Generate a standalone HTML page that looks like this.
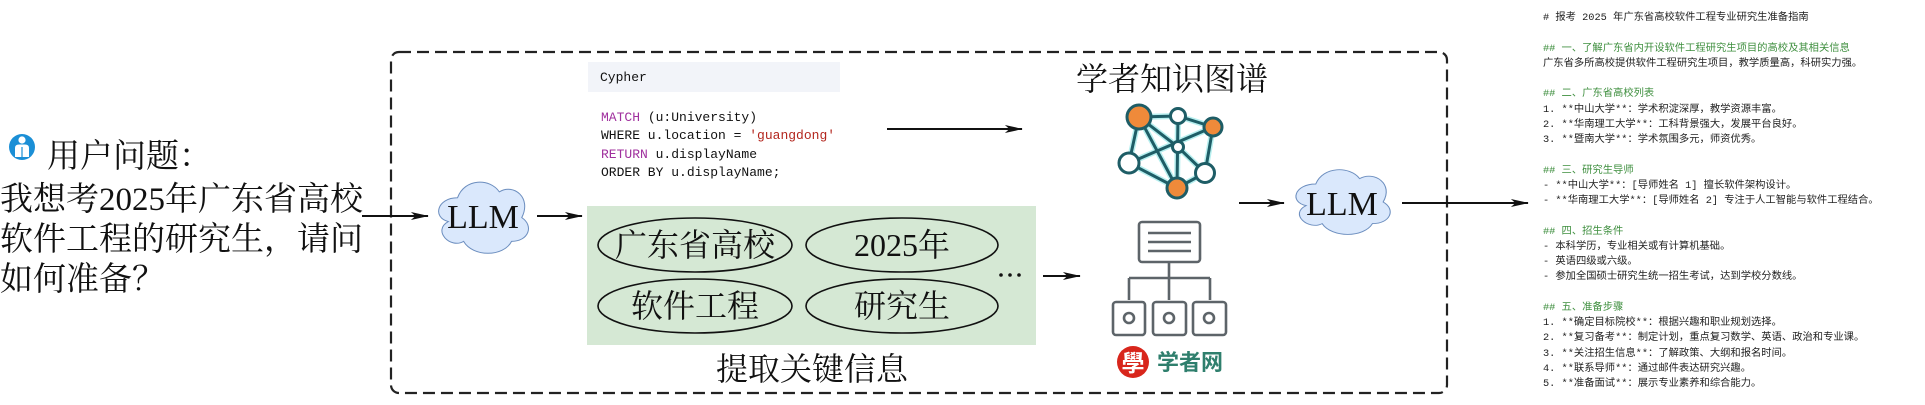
<!DOCTYPE html>
<html><head><meta charset="utf-8"><style>
html,body{margin:0;padding:0;background:#fff;}
body{width:1925px;height:405px;overflow:hidden;position:relative;}
.serif{font-family:"Liberation Serif","Noto Serif CJK SC",serif;}
#md{position:absolute;left:1543px;top:11px;font-family:"Liberation Mono","Noto Sans CJK SC",monospace;font-size:10.3px;line-height:15.25px;color:#222;white-space:pre;}
#md .g{color:#3f8f3f;}
</style></head><body>
<svg width="1925" height="405" viewBox="0 0 1925 405" xmlns="http://www.w3.org/2000/svg" style="position:absolute;left:0;top:0">
<defs>
<marker id="ah" viewBox="0 0 20 10" refX="19" refY="5" markerWidth="20" markerHeight="9" markerUnits="userSpaceOnUse" orient="auto">
<path d="M0,0.5 L20,5 L0,9.5 L5,5 Z" fill="#111"/>
</marker>
<path id="cloud" d="M25,20 C5,20 0,40 16,44 C0,53 18,72 31,64 C40,80 70,80 78,64 C95,64 100,48 88,40 C98,20 80,5 66,14 C57,0 32,0 25,20 Z"/>
</defs>

<rect x="391" y="52" width="1056" height="341" rx="8" fill="none" stroke="#222" stroke-width="2.2" stroke-dasharray="12,6"/>

<circle cx="22" cy="147" r="13" fill="#1b8fd6"/>
<circle cx="22" cy="140" r="3.6" fill="#fff"/>
<path d="M15,157 L15,148 Q15,144.5 19,144.5 L25,144.5 Q29,144.5 29,148 L29,157 Z" fill="#fff"/>
<line x1="22" y1="147" x2="22" y2="157" stroke="#1b8fd6" stroke-width="1.2"/>

<g class="serif" fill="#111">
<text x="47" y="167" font-size="33">用户问题：</text>
<text x="0" y="210" font-size="33">我想考2025年广东省高校</text>
<text x="0" y="250" font-size="33">软件工程的研究生，请问</text>
<text x="0" y="290" font-size="33">如何准备？</text>
</g>

<g stroke="#111" stroke-width="2" fill="none" marker-end="url(#ah)">
<line x1="362" y1="216" x2="428" y2="216"/>
<line x1="537" y1="216" x2="582" y2="216"/>
<line x1="887" y1="129" x2="1022" y2="129"/>
<line x1="1043" y1="276" x2="1080" y2="276"/>
<line x1="1239" y1="203" x2="1284" y2="203"/>
<line x1="1402" y1="203" x2="1528" y2="203"/>
</g>

<use href="#cloud" transform="translate(432,178) scale(1.02,0.99)" fill="#dae8fc" stroke="#6c8ebf" stroke-width="1"/>
<text x="483" y="228" class="serif" font-size="34" text-anchor="middle" fill="#111">LLM</text>
<use href="#cloud" transform="translate(1289,166) scale(1.07,0.9)" fill="#dae8fc" stroke="#6c8ebf" stroke-width="1"/>
<text x="1342" y="215" class="serif" font-size="34" text-anchor="middle" fill="#111">LLM</text>

<rect x="588" y="62" width="252" height="30" fill="#f2f4f9"/>
<g font-family="Liberation Mono, monospace" font-size="13" fill="#111">
<text x="600" y="81">Cypher</text>
<text x="601" y="121"><tspan fill="#a0309e">MATCH</tspan> (u:University)</text>
<text x="601" y="139">WHERE u.location = <tspan fill="#b3261e">'guangdong'</tspan></text>
<text x="601" y="158"><tspan fill="#a0309e">RETURN</tspan> u.displayName</text>
<text x="601" y="176">ORDER BY u.displayName;</text>
</g>

<text x="1076" y="90" class="serif" font-size="32" fill="#111">学者知识图谱</text>

<g stroke-linecap="round">
<g stroke="#6fe0e0" stroke-width="6" opacity="0.5" fill="none">
<path d="M1139,117 L1178,116 L1213,127 L1205,173 L1177,188 L1129,163 Z M1139,117 L1177,188 M1139,117 L1178,147 L1205,173 M1178,116 L1177,188 M1129,163 L1213,127"/>
</g>
<g stroke="#1e5d66" stroke-width="3" fill="none">
<path d="M1139,117 L1178,116 L1213,127 L1205,173 L1177,188 L1129,163 Z M1139,117 L1177,188 M1139,117 L1178,147 L1205,173 M1178,116 L1177,188 M1129,163 L1213,127"/>
</g>
<g stroke="#1e5d66" stroke-width="3">
<circle cx="1139" cy="117" r="12" fill="#ef8a3a"/>
<circle cx="1178" cy="116" r="7.5" fill="#fff"/>
<circle cx="1213" cy="127" r="9" fill="#ef8a3a"/>
<circle cx="1178" cy="147" r="5.5" fill="#fff"/>
<circle cx="1129" cy="163" r="10" fill="#fff"/>
<circle cx="1205" cy="173" r="9.5" fill="#fff"/>
<circle cx="1177" cy="188" r="10" fill="#ef8a3a"/>
</g>
</g>

<g stroke="#5d6469" stroke-width="2.6" fill="none">
<rect x="1139" y="222" width="61" height="40" rx="3"/>
<line x1="1148" y1="233" x2="1191" y2="233"/>
<line x1="1148" y1="242" x2="1191" y2="242"/>
<line x1="1148" y1="251" x2="1191" y2="251"/>
<line x1="1169" y1="262" x2="1169" y2="300"/>
<line x1="1129" y1="278" x2="1210" y2="278"/>
<line x1="1129" y1="278" x2="1129" y2="300"/>
<line x1="1210" y1="278" x2="1210" y2="300"/>
<rect x="1113" y="302" width="32" height="33" rx="3"/>
<rect x="1153" y="302" width="33" height="33" rx="3"/>
<rect x="1193" y="302" width="33" height="33" rx="3"/>
<circle cx="1129" cy="318" r="5"/>
<circle cx="1169" cy="318" r="5"/>
<circle cx="1209" cy="318" r="5"/>
</g>

<circle cx="1133" cy="362" r="16" fill="#d8261c"/>
<text x="1133" y="371" font-family="Noto Sans CJK TC, sans-serif" font-size="23" font-weight="bold" fill="#fff" text-anchor="middle">學</text>
<text x="1157" y="370" font-family="Noto Sans CJK SC, sans-serif" font-size="22" font-weight="bold" fill="#2f7f6d">学者网</text>

<rect x="587" y="206" width="449" height="139" fill="#d5e8d4"/>
<g fill="none" stroke="#111" stroke-width="1.6">
<ellipse cx="695" cy="245" rx="97" ry="27"/>
<ellipse cx="902" cy="245" rx="96" ry="27"/>
<ellipse cx="695" cy="306" rx="97" ry="27"/>
<ellipse cx="902" cy="306" rx="96" ry="27"/>
</g>
<g class="serif" font-size="32" fill="#111" text-anchor="middle">
<text x="695" y="256">广东省高校</text>
<text x="902" y="256">2025年</text>
<text x="695" y="317">软件工程</text>
<text x="902" y="317">研究生</text>
<text x="812" y="380">提取关键信息</text>
</g>
<g fill="#111"><circle cx="1001" cy="275" r="1.8"/><circle cx="1010" cy="275" r="1.8"/><circle cx="1019" cy="275" r="1.8"/></g>
</svg>

<div id="md"># 报考 2025 年广东省高校软件工程专业研究生准备指南

<span class="g">## 一、了解广东省内开设软件工程研究生项目的高校及其相关信息</span>
广东省多所高校提供软件工程研究生项目，教学质量高，科研实力强。

<span class="g">## 二、广东省高校列表</span>
1. **中山大学**：学术积淀深厚，教学资源丰富。
2. **华南理工大学**：工科背景强大，发展平台良好。
3. **暨南大学**：学术氛围多元，师资优秀。

<span class="g">## 三、研究生导师</span>
- **中山大学**：[导师姓名 1] 擅长软件架构设计。
- **华南理工大学**：[导师姓名 2] 专注于人工智能与软件工程结合。

<span class="g">## 四、招生条件</span>
- 本科学历，专业相关或有计算机基础。
- 英语四级或六级。
- 参加全国硕士研究生统一招生考试，达到学校分数线。

<span class="g">## 五、准备步骤</span>
1. **确定目标院校**：根据兴趣和职业规划选择。
2. **复习备考**：制定计划，重点复习数学、英语、政治和专业课。
3. **关注招生信息**：了解政策、大纲和报名时间。
4. **联系导师**：通过邮件表达研究兴趣。
5. **准备面试**：展示专业素养和综合能力。</div>
</body></html>
